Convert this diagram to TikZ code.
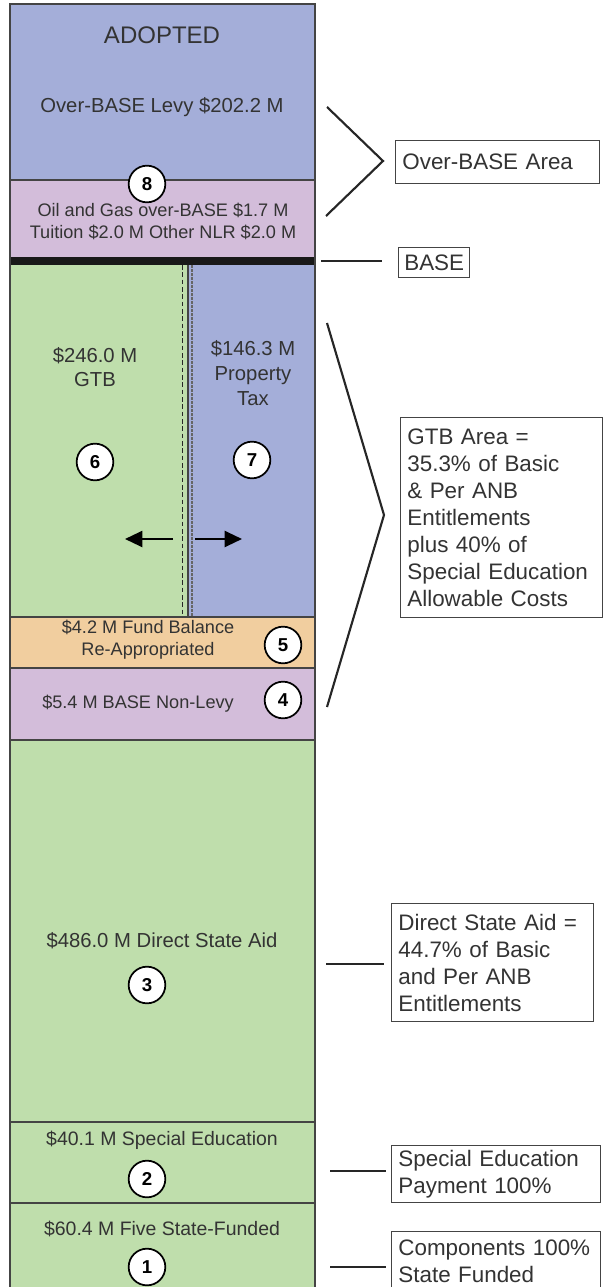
\documentclass[tikz,border=0pt]{standalone}
\usepackage{fontspec}
\setmainfont{Liberation Sans}
\usetikzlibrary{arrows.meta}
\definecolor{bandblue}{HTML}{A4AED9}
\definecolor{bandpink}{HTML}{D3BDDA}
\definecolor{bandgreen}{HTML}{BFDEAC}
\definecolor{bandorange}{HTML}{F1CE9F}
\definecolor{txt}{HTML}{333333}
\definecolor{edge}{HTML}{444444}
\begin{document}
\begin{tikzpicture}[x=0.75pt,y=-0.75pt,
  sep/.style={draw=edge, line width=1.1pt},
  lbl/.style={text=txt, font=\fontsize{15.2}{18.5}\selectfont, align=center, inner sep=0},
  slbl/.style={text=txt, font=\fontsize{13.6}{16.5}\selectfont, align=center, inner sep=0},
  blbl/.style={text=txt, font=\fontsize{14.6}{16.5}\selectfont, align=center, inner sep=0},
  num/.style={circle, draw=black, line width=1.3pt, fill=white, minimum size=27.5pt, inner sep=0, font=\bfseries\fontsize{14}{14}\selectfont},
  infobox/.style={draw=edge, line width=1.1pt, fill=white, text=txt, font=\fontsize{16.8}{20.2}\selectfont, align=left, anchor=north west, inner xsep=5pt, inner ysep=0pt},
  conn/.style={line width=2.2pt, black!85},
  chev/.style={line width=1.6pt, black!85},
  push/.style={line width=1.6pt, -{Triangle[length=13pt,width=12pt]}}
]
\useasboundingbox (0,0) rectangle (603,1287);
\begin{scope}
\clip (0,0) rectangle (603,1287);
% bands
\fill[bandblue] (10,4) rectangle (315,180);
\fill[bandpink] (10,180) rectangle (315,258);
\fill[bandgreen] (10,264) rectangle (188,617);
\fill[bandblue] (188,264) rectangle (315,617);
\fill[bandorange] (10,617) rectangle (315,668);
\fill[bandpink] (10,668) rectangle (315,740);
\fill[bandgreen] (10,740) rectangle (315,1295);
\draw[sep] (10,180) -- (315,180);
\draw[sep] (10,617) -- (315,617);
\draw[sep] (10,668) -- (315,668);
\draw[sep] (10,740) -- (315,740);
\draw[sep] (10,1122) -- (315,1122);
\draw[sep] (10,1203) -- (315,1203);
\fill[black!90] (10,257) rectangle (315,265);
\draw[sep] (10,1300) -- (10,4) -- (315,4) -- (315,1300);
% divider
\draw[black!85, dash pattern=on 3.5pt off 2pt, line width=0.9pt] (182.5,265) -- (182.5,617);
\draw[edge, line width=1.8pt] (188,265) -- (188,617);
\draw[black!60, dash pattern=on 2pt off 1pt, line width=1.2pt] (192,265) -- (192,617);
% texts
\node[lbl, font=\fontsize{18}{20}\selectfont] (adopted) at (162,35) {ADOPTED};
\node[lbl] (levy) at (162,107) {Over-BASE Levy \$202.2 M};
\node[slbl] (oil) at (163,221) {Oil and Gas over-BASE \$1.7 M\\Tuition \$2.0 M Other NLR \$2.0 M};
\node[lbl] (gtb) at (95,367) {\$246.0 M\\GTB};
\node[lbl, align=center] (prop) at (253,373) {\$146.3 M\\Property\\Tax};
\node[slbl] (fund) at (148,640) {\$4.2 M Fund Balance\\Re-Appropriated};
\node[slbl] (nonlevy) at (138,704) {\$5.4 M BASE Non-Levy};
\node[lbl] (dsa) at (162,941) {\$486.0 M Direct State Aid};
\node[blbl] (sped) at (162,1140) {\$40.1 M Special Education};
\node[blbl] (five) at (162,1229) {\$60.4 M Five State-Funded};
% numbers
\node[num] (n8) at (147,184) {8};
\node[num] (n6) at (95,462) {6};
\node[num] (n7) at (252,460) {7};
\node[num] (n5) at (283,645) {5};
\node[num] (n4) at (283,700) {4};
\node[num] (n3) at (147,985) {3};
\node[num] (n2) at (147,1179) {2};
\node[num] (n1) at (147,1267) {1};
% arrows
\coordinate (la0) at (173,539);
\coordinate (la1) at (125,539);
\coordinate (ra0) at (195,539);
\coordinate (ra1) at (242,539);
\draw[push] (la0) -- (la1);
\draw[push] (ra0) -- (ra1);
% right boxes
\node[infobox, minimum width=153pt, minimum height=32.25pt, text width=143pt] (obbox) at (395,140) {Over-BASE Area};
\node[infobox, minimum width=53.25pt, minimum height=22.5pt, inner xsep=3pt] (basebox) at (398,247) {BASE};
\node[infobox, minimum width=151.5pt, minimum height=150pt, text width=141.5pt] (gtbbox) at (400,417) {GTB Area =\\35.3\% of Basic\\\& Per ANB\\Entitlements\\plus 40\% of\\Special Education\\Allowable Costs};
\node[infobox, minimum width=151.5pt, minimum height=88.5pt, text width=141.5pt] (dsabox) at (391,903) {Direct State Aid =\\44.7\% of Basic\\and Per ANB\\Entitlements};
\node[infobox, minimum width=156.75pt, minimum height=42.75pt, text width=146.75pt] (spedbox) at (391,1145) {Special Education\\Payment 100\%};
\node[infobox, minimum width=156.75pt, minimum height=45pt, text width=146.75pt] (compbox) at (391,1231) {Components 100\%\\State Funded};
% connectors
\coordinate (obtop) at (327,107);
\coordinate (obtip) at (383,161);
\coordinate (obbot) at (326,216);
\draw[chev] (obtop) -- (obtip) -- (obbot);
\coordinate (baseL) at (321,261);
\draw[conn, shorten >=12pt] (baseL) -- (basebox.west |- baseL);
\coordinate (gtop) at (327,323);
\coordinate (gtip) at (384,515);
\coordinate (gbot) at (327,707);
\draw[chev] (gtop) -- (gtip) -- (gbot);
\coordinate (dsaL) at (326,964);
\draw[conn, shorten >=5pt] (dsaL) -- (dsabox.west |- dsaL);
\coordinate (spedL) at (330,1171);
\draw[conn, shorten >=4pt] (spedL) -- (spedbox.west |- spedL);
\coordinate (compL) at (330,1267);
\draw[conn, shorten >=4pt] (compL) -- (compbox.west |- compL);
\end{scope}
\end{tikzpicture}
\end{document}
